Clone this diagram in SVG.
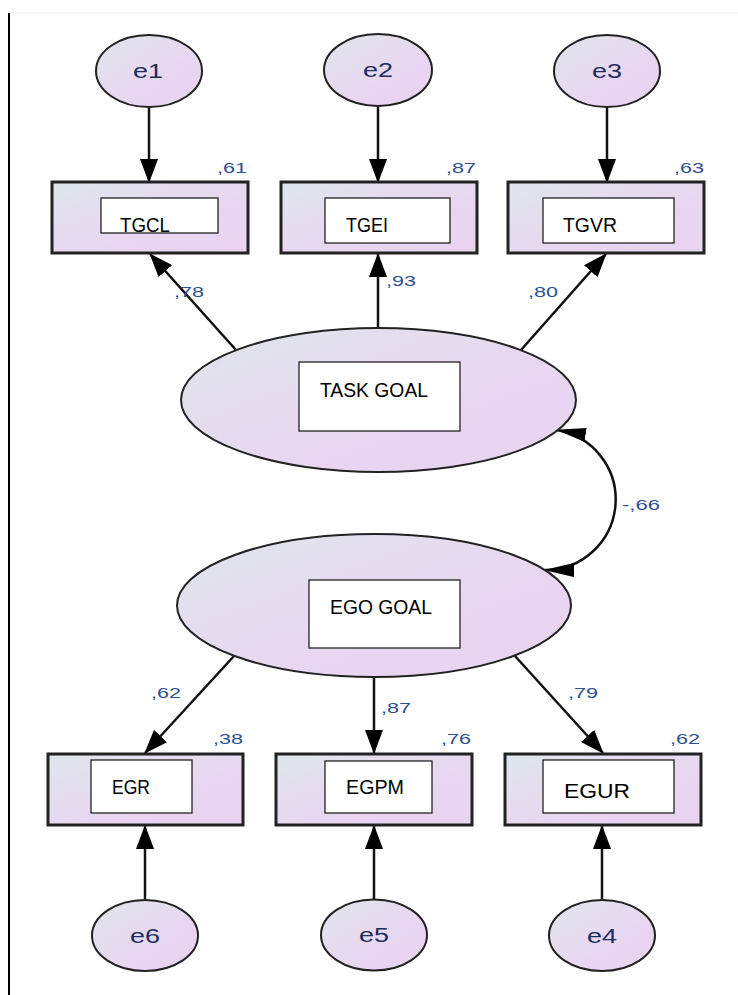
<svg xmlns="http://www.w3.org/2000/svg" width="738" height="995" viewBox="0 0 738 995">
<style>
.obs{stroke:#222;stroke-width:3;fill:url(#g)}
.lat{stroke:#222;stroke-width:2;fill:url(#g)}
.inner{fill:#fff;stroke:#222;stroke-width:1.3}
.lbl{font-family:"Liberation Sans",Arial,sans-serif;font-size:21px;fill:#000}
.err{font-family:"Liberation Sans",Arial,sans-serif;font-size:20px;fill:#1e2d5c}
.coef{font-family:"Liberation Sans",Arial,sans-serif;font-size:15px;fill:#2d4f8f}
.edge{stroke:#111;stroke-width:2.5;fill:none}
</style>
<defs>
<linearGradient id="g" x1="0" y1="0" x2="1" y2="1">
<stop offset="0" stop-color="#dfe6ec"/>
<stop offset="0.65" stop-color="#e9d5f1"/>
<stop offset="1" stop-color="#e9d3f0"/>
</linearGradient>
<marker id="ah" markerUnits="userSpaceOnUse" markerWidth="24" markerHeight="18" viewBox="0 0 24 18" refX="23" refY="9" orient="auto">
<path d="M0,0 L24,9 L0,18 Z" fill="#000"/>
</marker>
<marker id="ah2" markerUnits="userSpaceOnUse" markerWidth="30" markerHeight="14" viewBox="0 0 30 14" refX="29" refY="7" orient="auto-start-reverse">
<path d="M0,0 L30,7 L0,14 Z" fill="#000"/>
</marker>
</defs>
<rect width="738" height="995" fill="#fff"/>
<line x1="9" y1="13" x2="738" y2="13" stroke="#ececec" stroke-width="1"/>
<line x1="9" y1="13" x2="9" y2="995" stroke="#000" stroke-width="2"/>

<g id="connectors">
<line class="edge" x1="149" y1="107" x2="149" y2="182" marker-end="url(#ah)"/>
<line class="edge" x1="378" y1="106" x2="378" y2="182" marker-end="url(#ah)"/>
<line class="edge" x1="607" y1="107" x2="607" y2="182" marker-end="url(#ah)"/>
<line class="edge" x1="236" y1="350" x2="150" y2="254" marker-end="url(#ah)"/>
<line class="edge" x1="378" y1="328" x2="378" y2="254" marker-end="url(#ah)"/>
<line class="edge" x1="521" y1="350" x2="606" y2="254" marker-end="url(#ah)"/>
<path class="edge" d="M557,430 A70.5,70.5 0 0 1 545,570" marker-start="url(#ah2)" marker-end="url(#ah2)" stroke-width="2"/>
<line class="edge" x1="234" y1="656" x2="145" y2="753" marker-end="url(#ah)"/>
<line class="edge" x1="374" y1="677" x2="374" y2="753" marker-end="url(#ah)"/>
<line class="edge" x1="515" y1="656" x2="603" y2="753" marker-end="url(#ah)"/>
<line class="edge" x1="145" y1="900" x2="145" y2="826" marker-end="url(#ah)"/>
<line class="edge" x1="374" y1="900" x2="374" y2="826" marker-end="url(#ah)"/>
<line class="edge" x1="602" y1="900" x2="602" y2="826" marker-end="url(#ah)"/>
<text class="coef" x="174" y="297" textLength="30" lengthAdjust="spacingAndGlyphs">,78</text>
<text class="coef" x="386" y="286" textLength="30" lengthAdjust="spacingAndGlyphs">,93</text>
<text class="coef" x="528" y="297" textLength="30" lengthAdjust="spacingAndGlyphs">,80</text>
<text class="coef" x="622" y="510" textLength="38" lengthAdjust="spacingAndGlyphs">-,66</text>
<text class="coef" x="151" y="698" textLength="30" lengthAdjust="spacingAndGlyphs">,62</text>
<text class="coef" x="381" y="713" textLength="30" lengthAdjust="spacingAndGlyphs">,87</text>
<text class="coef" x="568" y="698" textLength="30" lengthAdjust="spacingAndGlyphs">,79</text>
</g>

<g id="e1"><ellipse class="lat" cx="149" cy="71" rx="53" ry="36"/><text class="err" x="133" y="78" textLength="30" lengthAdjust="spacingAndGlyphs">e1</text></g>
<g id="e2"><ellipse class="lat" cx="378" cy="70" rx="54" ry="36"/><text class="err" x="363" y="77" textLength="30" lengthAdjust="spacingAndGlyphs">e2</text></g>
<g id="e3"><ellipse class="lat" cx="607" cy="71" rx="53" ry="36"/><text class="err" x="592" y="78" textLength="30" lengthAdjust="spacingAndGlyphs">e3</text></g>

<g id="TGCL"><rect class="obs" x="52" y="182" width="196" height="71"/><rect class="inner" x="101" y="198" width="117" height="35"/><text class="lbl" x="120" y="232" textLength="50" lengthAdjust="spacingAndGlyphs">TGCL</text><text class="coef" x="217" y="173" textLength="30" lengthAdjust="spacingAndGlyphs">,61</text></g>
<g id="TGEI"><rect class="obs" x="281" y="182" width="196" height="71"/><rect class="inner" x="325" y="198" width="125" height="45"/><text class="lbl" x="346" y="232" textLength="42" lengthAdjust="spacingAndGlyphs">TGEI</text><text class="coef" x="446" y="173" textLength="30" lengthAdjust="spacingAndGlyphs">,87</text></g>
<g id="TGVR"><rect class="obs" x="508" y="182" width="196" height="71"/><rect class="inner" x="543" y="198" width="131" height="45"/><text class="lbl" x="563" y="232" textLength="54" lengthAdjust="spacingAndGlyphs">TGVR</text><text class="coef" x="674" y="173" textLength="30" lengthAdjust="spacingAndGlyphs">,63</text></g>

<g id="TASKGOAL"><ellipse class="lat" cx="378.5" cy="400" rx="197.5" ry="72"/><rect class="inner" x="299" y="362" width="161" height="69"/><text class="lbl" x="320" y="397" font-size="22" textLength="108" lengthAdjust="spacingAndGlyphs">TASK GOAL</text></g>
<g id="EGOGOAL"><ellipse class="lat" cx="374" cy="605.5" rx="197" ry="71.5"/><rect class="inner" x="309" y="580" width="151" height="68"/><text class="lbl" x="330" y="614" font-size="22" textLength="102" lengthAdjust="spacingAndGlyphs">EGO GOAL</text></g>

<g id="EGR"><rect class="obs" x="48" y="754" width="195" height="71"/><rect class="inner" x="91" y="760" width="101" height="53"/><text class="lbl" x="112" y="794" textLength="38" lengthAdjust="spacingAndGlyphs">EGR</text><text class="coef" x="213" y="744" textLength="30" lengthAdjust="spacingAndGlyphs">,38</text></g>
<g id="EGPM"><rect class="obs" x="276" y="754" width="196" height="71"/><rect class="inner" x="325" y="761" width="107" height="52"/><text class="lbl" x="346" y="794" textLength="58" lengthAdjust="spacingAndGlyphs">EGPM</text><text class="coef" x="441" y="744" textLength="30" lengthAdjust="spacingAndGlyphs">,76</text></g>
<g id="EGUR"><rect class="obs" x="505" y="754" width="196" height="71"/><rect class="inner" x="543" y="760" width="131" height="53"/><text class="lbl" x="564" y="798" font-size="23" textLength="66" lengthAdjust="spacingAndGlyphs">EGUR</text><text class="coef" x="670" y="744" textLength="30" lengthAdjust="spacingAndGlyphs">,62</text></g>

<g id="e6"><ellipse class="lat" cx="145" cy="935.5" rx="53" ry="35.5"/><text class="err" x="130" y="943" textLength="30" lengthAdjust="spacingAndGlyphs">e6</text></g>
<g id="e5"><ellipse class="lat" cx="374" cy="935" rx="53" ry="35.5"/><text class="err" x="359" y="942" textLength="30" lengthAdjust="spacingAndGlyphs">e5</text></g>
<g id="e4"><ellipse class="lat" cx="602" cy="935.5" rx="53" ry="35.5"/><text class="err" x="587" y="943" textLength="30" lengthAdjust="spacingAndGlyphs">e4</text></g>
</svg>
